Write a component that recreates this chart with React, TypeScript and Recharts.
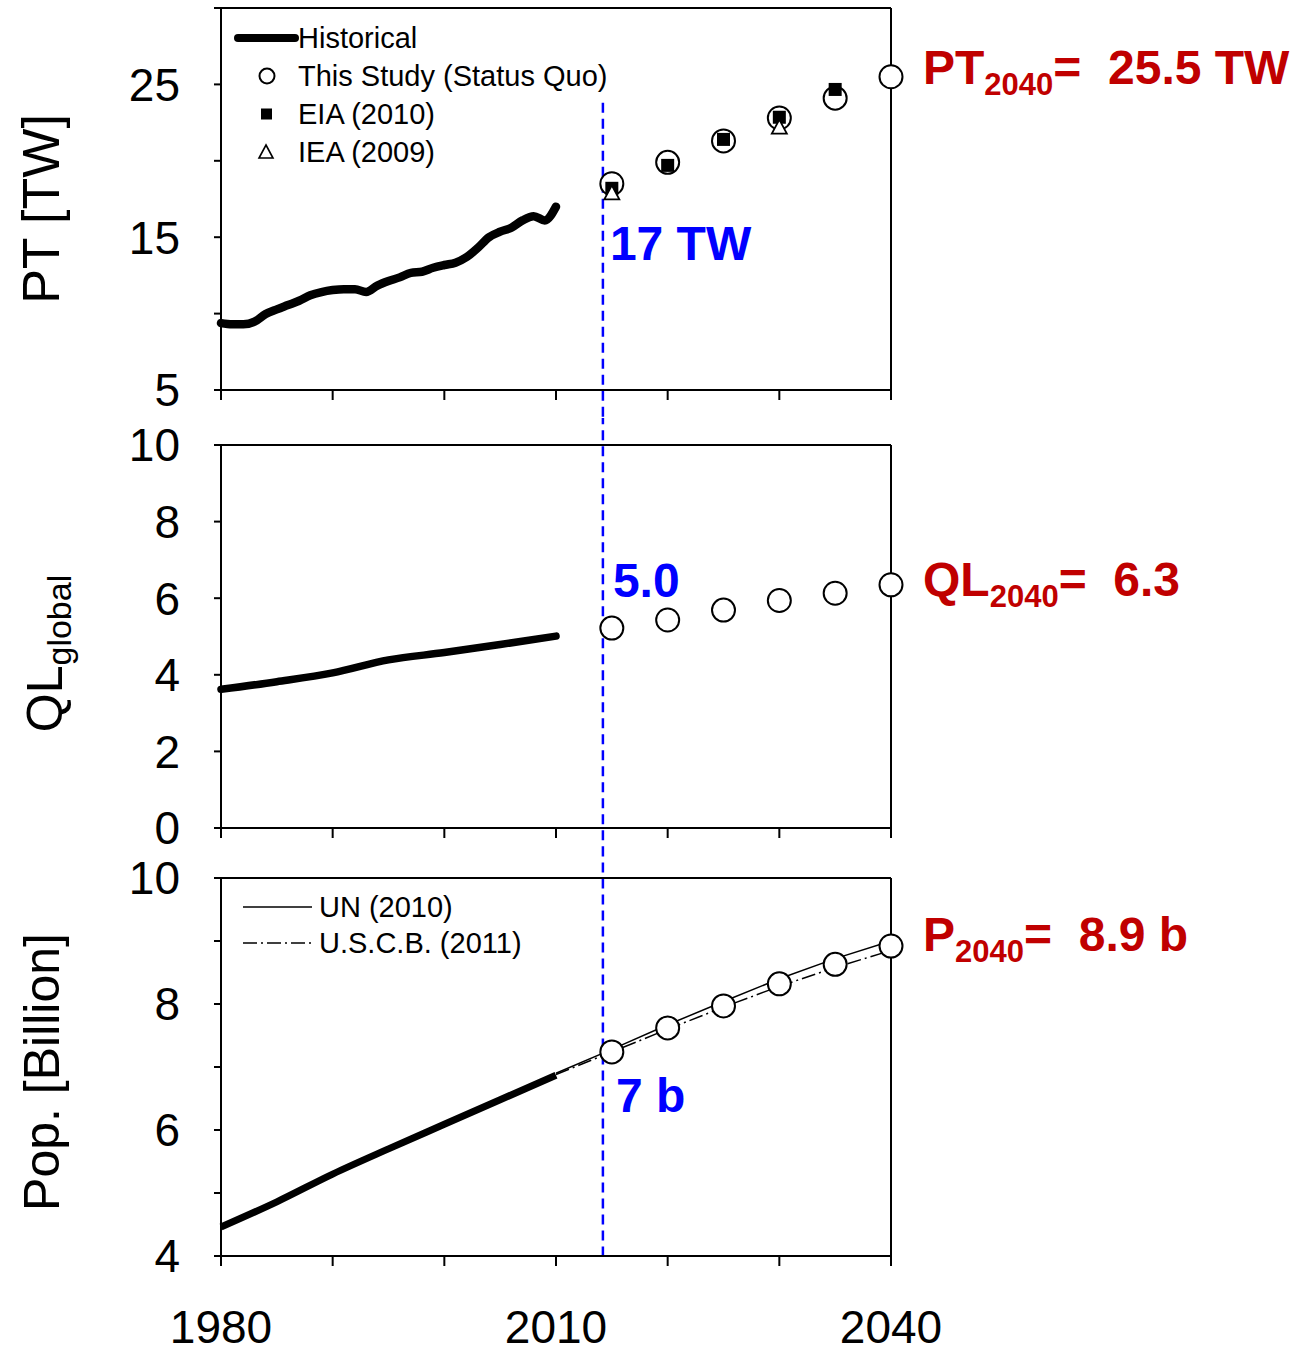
import React from 'react';
import {
  ComposedChart, Line, Scatter, XAxis, YAxis, ReferenceLine, ReferenceDot, Legend,
} from 'recharts';

const FONT = '"Liberation Sans", Arial, Helvetica, sans-serif';

// ---------- data ----------
const xTicks = [1980, 1990, 2000, 2010, 2020, 2030, 2040];
const xLabelYears = [1980, 2010, 2040];

const ptYears = [1980, 1981, 1982, 1983, 1984, 1985, 1986, 1987, 1988, 1989, 1990, 1991, 1992, 1993, 1994, 1995, 1996, 1997, 1998, 1999, 2000, 2001, 2002, 2003, 2004, 2005, 2006, 2007, 2008, 2009, 2010];
const ptHistorical = [9.38, 9.3, 9.3, 9.47, 9.97, 10.28, 10.56, 10.84, 11.2, 11.41, 11.54, 11.6, 11.6, 11.41, 11.83, 12.13, 12.37, 12.67, 12.74, 13.0, 13.18, 13.33, 13.7, 14.3, 15.0, 15.36, 15.62, 16.1, 16.37, 16.1, 17.0];

const forecastYears = [2015, 2020, 2025, 2030, 2035, 2040];
const ptThisStudy = [18.5, 19.9, 21.3, 22.8, 24.1, 25.5];
const eiaYears = [2015, 2020, 2025, 2030, 2035];
const ptEIA = [18.2, 19.7, 21.4, 22.85, 24.67];
const ieaYears = [2015, 2030];
const ptIEA = [17.9, 22.2];

const qlYears = [1980, 1985, 1990, 1995, 2000, 2005, 2010];
const qlHistorical = [3.62, 3.82, 4.05, 4.39, 4.58, 4.79, 5.01];
const qlThisStudy = [5.22, 5.43, 5.69, 5.94, 6.13, 6.35];

const popYears = [1980, 1985, 1990, 1995, 2000, 2005, 2010];
const popHistorical = [4.46, 4.86, 5.3, 5.7, 6.09, 6.48, 6.87];
const popThisStudy = [7.24, 7.62, 7.97, 8.32, 8.63, 8.92];
const unYears = [2010, 2015, 2020, 2025, 2030, 2035, 2040];
const popUN = [6.9, 7.28, 7.67, 8.04, 8.4, 8.72, 9.0];
const popUSCB = [6.88, 7.24, 7.6, 7.95, 8.28, 8.58, 8.85];

const ptTicks = [5, 10, 15, 20, 25, 30];
const ptLabelTicks = [5, 15, 25];
const qlTicks = [0, 2, 4, 6, 8, 10];
const popTicks = [4, 5, 6, 7, 8, 9, 10];
const popLabelTicks = [4, 6, 8, 10];

const todayYear = 2014.2;

const zip = (xs: number[], vs: number[]) => xs.map((year, i) => ({ year, v: vs[i] }));

const ptHistData = zip(ptYears, ptHistorical);
const ptStudyData = zip(forecastYears, ptThisStudy);
const ptEIAData = zip(eiaYears, ptEIA);
const ptIEAData = zip(ieaYears, ptIEA);
const qlHistData = zip(qlYears, qlHistorical);
const qlStudyData = zip(forecastYears, qlThisStudy);
const popHistData = zip(popYears, popHistorical);
const popStudyData = zip(forecastYears, popThisStudy);
const popUNData = zip(unYears, popUN);
const popUSCBData = zip(unYears, popUSCB);

// ---------- styles ----------
const W = 1297;
const PLOT_LEFT = 221;
const RIGHT_MARGIN = 405;
const AX = { stroke: '#000', strokeWidth: 2 };
const tickStyle = { fill: '#000', fontSize: 46, fontFamily: FONT };
const RED = '#c00000';
const BLUE = '#0000ff';

const OpenCircle = (p: any) => (
  <circle cx={p.cx} cy={p.cy} r={11.5} fill="#fff" stroke="#000" strokeWidth={2} />
);
const FilledSquare = (p: any) => (
  <rect x={p.cx - 6.5} y={p.cy - 6.5} width={13} height={13} fill="#000" />
);
const OpenTriangle = (p: any) => (
  <path d={`M${p.cx},${p.cy - 7.5} L${p.cx + 7.5},${p.cy + 6.5} L${p.cx - 7.5},${p.cy + 6.5} Z`} fill="#fff" stroke="#000" strokeWidth={1.8} />
);

const redLabel = (main: string, sub: string, rest: string, dy: number) => (props: any) => {
  const vb = props.viewBox || {};
  const x = vb.x + 32;
  const y = vb.y + dy;
  return (
    <text x={x} y={y} fill={RED} fontSize={48} fontWeight="bold" fontFamily={FONT} style={{ whiteSpace: 'pre' }}>
      <tspan>{main}</tspan>
      <tspan fontSize={31} dy={11}>{sub}</tspan>
      <tspan dy={-11}>{rest}</tspan>
    </text>
  );
};

const blueLabel = (txt: string, dx: number) => (props: any) => {
  const vb = props.viewBox || {};
  return (
    <text x={vb.x + dx} y={vb.y} fill={BLUE} fontSize={48} fontWeight="bold" fontFamily={FONT}>
      {txt}
    </text>
  );
};

const yLabel = (main: string, sub: string | null, size: number, shift: number, cx: number) => (props: any) => {
  const vb = props.viewBox || {};
  const cy = vb.y + vb.height / 2 + shift;
  return (
    <text x={cx} y={cy} transform={`rotate(-90 ${cx} ${cy})`} textAnchor="middle" fill="#000" fontSize={size} fontFamily={FONT}>
      <tspan>{main}</tspan>
      {sub ? <tspan fontSize={34} dy={9}>{sub}</tspan> : null}
    </text>
  );
};

const topLegendItems = ['Historical', 'This Study (Status Quo)', 'EIA (2010)', 'IEA (2009)'];
const TopLegend = () => (
  <svg width={420} height={160} style={{ display: 'block' }}>
    {topLegendItems.map((name, i) => {
      const cy = 20 + 38 * i;
      let icon: any = null;
      if (i === 0) icon = <line x1={8} x2={65} y1={cy} y2={cy} stroke="#000" strokeWidth={8} strokeLinecap="round" />;
      if (i === 1) icon = <circle cx={37} cy={cy} r={7.5} fill="#fff" stroke="#000" strokeWidth={2} />;
      if (i === 2) icon = <rect x={31} y={cy - 5.5} width={11} height={11} fill="#000" />;
      if (i === 3) icon = <path d={`M36,${cy - 7} L43,${cy + 6} L29,${cy + 6} Z`} fill="#fff" stroke="#000" strokeWidth={1.6} />;
      return (
        <g key={name}>
          {icon}
          <text x={68} y={cy + 10} fontSize={29} fontFamily={FONT} fill="#000">{name}</text>
        </g>
      );
    })}
  </svg>
);

const bottomLegendItems = ['UN (2010)', 'U.S.C.B. (2011)'];
const BottomLegend = () => (
  <svg width={320} height={80} style={{ display: 'block' }}>
    {bottomLegendItems.map((name, i) => {
      const cy = 20 + 36 * i;
      return (
        <g key={name}>
          <line x1={8} x2={77} y1={cy} y2={cy} stroke="#000" strokeWidth={1.5} strokeDasharray={i === 1 ? '14 4 2 4' : undefined} />
          <text x={84} y={cy + 10} fontSize={29} fontFamily={FONT} fill="#000">{name}</text>
        </g>
      );
    })}
  </svg>
);

const frameAxes = (domain: number[]) => [
  <XAxis key="xt" xAxisId="top" orientation="top" type="number" domain={[1980, 2040]} height={1} tick={false} tickLine={false} axisLine={AX} />,
  <YAxis key="yr" yAxisId="right" orientation="right" type="number" domain={domain} width={1} tick={false} tickLine={false} axisLine={AX} />,
];

const xAxis = (height: number, showLabels: boolean) => (
  <XAxis
    type="number"
    dataKey="year"
    domain={[1980, 2040]}
    ticks={xTicks}
    interval={0}
    height={height}
    axisLine={AX}
    tickLine={AX}
    tickSize={10}
    tickMargin={44}
    tick={tickStyle}
    tickFormatter={(v: number) => (showLabels && xLabelYears.includes(v) ? String(v) : '')}
  />
);

export default function App() {
  return (
    <div style={{ position: 'absolute', left: 0, top: 0, width: W, height: 1352, background: '#fff', fontFamily: FONT }}>
      {/* Panel 1: PT */}
      <ComposedChart width={W} height={418} margin={{ top: 7, right: RIGHT_MARGIN, bottom: 0, left: 0 }}>
        {xAxis(28, false)}
        <YAxis
          type="number"
          domain={[5, 30]}
          ticks={ptTicks}
          interval={0}
          width={PLOT_LEFT}
          axisLine={AX}
          tickLine={AX}
          tickSize={7}
          tickMargin={34}
          tick={tickStyle}
          tickFormatter={(v: number) => (ptLabelTicks.includes(v) ? String(v) : '')}
          label={{ content: yLabel('PT [TW]', null, 52, 10, 59) }}
        />
        {frameAxes([5, 30])}
        <ReferenceLine segment={[{ x: todayYear, y: 23.8 }, { x: todayYear, y: 3.1 }]} ifOverflow="visible" stroke={BLUE} strokeWidth={2.5} strokeDasharray="10 6" />
        <Line data={ptHistData} dataKey="v" type="monotone" stroke="#000" strokeWidth={8.5} strokeLinecap="round" dot={false} activeDot={false} isAnimationActive={false} />
        <Scatter data={ptStudyData} dataKey="v" shape={OpenCircle} isAnimationActive={false} />
        <Scatter data={ptEIAData} dataKey="v" shape={FilledSquare} isAnimationActive={false} />
        <Scatter data={ptIEAData} dataKey="v" shape={OpenTriangle} isAnimationActive={false} />
        <ReferenceDot x={2040} y={25.5} r={0} fill="none" stroke="none" label={{ content: redLabel('PT', '2040', '=  25.5 TW', 7) }} />
        <ReferenceDot x={todayYear} y={13.5} r={0} fill="none" stroke="none" label={{ content: blueLabel('17 TW', 7) }} />
        <Legend verticalAlign="middle" align="center" layout="horizontal" content={TopLegend} wrapperStyle={{ position: 'absolute', left: 230, top: 18, width: 420, height: 160 }} />
      </ComposedChart>

      {/* Panel 2: QL */}
      <ComposedChart width={W} height={435} margin={{ top: 26, right: RIGHT_MARGIN, bottom: 0, left: 0 }}>
        {xAxis(25, false)}
        <YAxis
          type="number"
          domain={[0, 10]}
          ticks={qlTicks}
          interval={0}
          width={PLOT_LEFT}
          axisLine={AX}
          tickLine={AX}
          tickSize={7}
          tickMargin={34}
          tick={tickStyle}
          label={{ content: yLabel('QL', 'global', 50, 17, 62) }}
        />
        {frameAxes([0, 10])}
        <ReferenceLine segment={[{ x: todayYear, y: 10.8 }, { x: todayYear, y: -0.7 }]} ifOverflow="visible" stroke={BLUE} strokeWidth={2.5} strokeDasharray="10 6" />
        <Line data={qlHistData} dataKey="v" type="monotone" stroke="#000" strokeWidth={7.5} strokeLinecap="round" dot={false} activeDot={false} isAnimationActive={false} />
        <Scatter data={qlStudyData} dataKey="v" shape={OpenCircle} isAnimationActive={false} />
        <ReferenceDot x={2040} y={6.35} r={0} fill="none" stroke="none" label={{ content: redLabel('QL', '2040', '=  6.3', 11) }} />
        <ReferenceDot x={todayYear} y={6.03} r={0} fill="none" stroke="none" label={{ content: blueLabel('5.0', 10) }} />
      </ComposedChart>

      {/* Panel 3: Population */}
      <ComposedChart width={W} height={499} margin={{ top: 24, right: RIGHT_MARGIN, bottom: 0, left: 0 }}>
        {xAxis(96, true)}
        <YAxis
          type="number"
          domain={[4, 10]}
          ticks={popTicks}
          interval={0}
          width={PLOT_LEFT}
          axisLine={AX}
          tickLine={AX}
          tickSize={7}
          tickMargin={34}
          tick={tickStyle}
          tickFormatter={(v: number) => (popLabelTicks.includes(v) ? String(v) : '')}
          label={{ content: yLabel('Pop. [Billion]', null, 50, 5, 59) }}
        />
        {frameAxes([4, 10])}
        <ReferenceLine segment={[{ x: todayYear, y: 10.5 }, { x: todayYear, y: 4 }]} ifOverflow="visible" stroke={BLUE} strokeWidth={2.5} strokeDasharray="10 6" />
        <Line data={popUNData} dataKey="v" type="linear" stroke="#000" strokeWidth={1.5} dot={false} activeDot={false} isAnimationActive={false} />
        <Line data={popUSCBData} dataKey="v" type="linear" stroke="#000" strokeWidth={1.5} strokeDasharray="14 4 2 4" dot={false} activeDot={false} isAnimationActive={false} />
        <Line data={popHistData} dataKey="v" type="monotone" stroke="#000" strokeWidth={7} dot={false} activeDot={false} isAnimationActive={false} />
        <Scatter data={popStudyData} dataKey="v" shape={OpenCircle} isAnimationActive={false} />
        <ReferenceDot x={2040} y={8.92} r={0} fill="none" stroke="none" label={{ content: redLabel('P', '2040', '=  8.9 b', 5) }} />
        <ReferenceDot x={todayYear} y={6.29} r={0} fill="none" stroke="none" label={{ content: blueLabel('7 b', 13) }} />
        <Legend verticalAlign="middle" align="center" layout="horizontal" content={BottomLegend} wrapperStyle={{ position: 'absolute', left: 235, top: 34, width: 320, height: 80 }} />
      </ComposedChart>
    </div>
  );
}
